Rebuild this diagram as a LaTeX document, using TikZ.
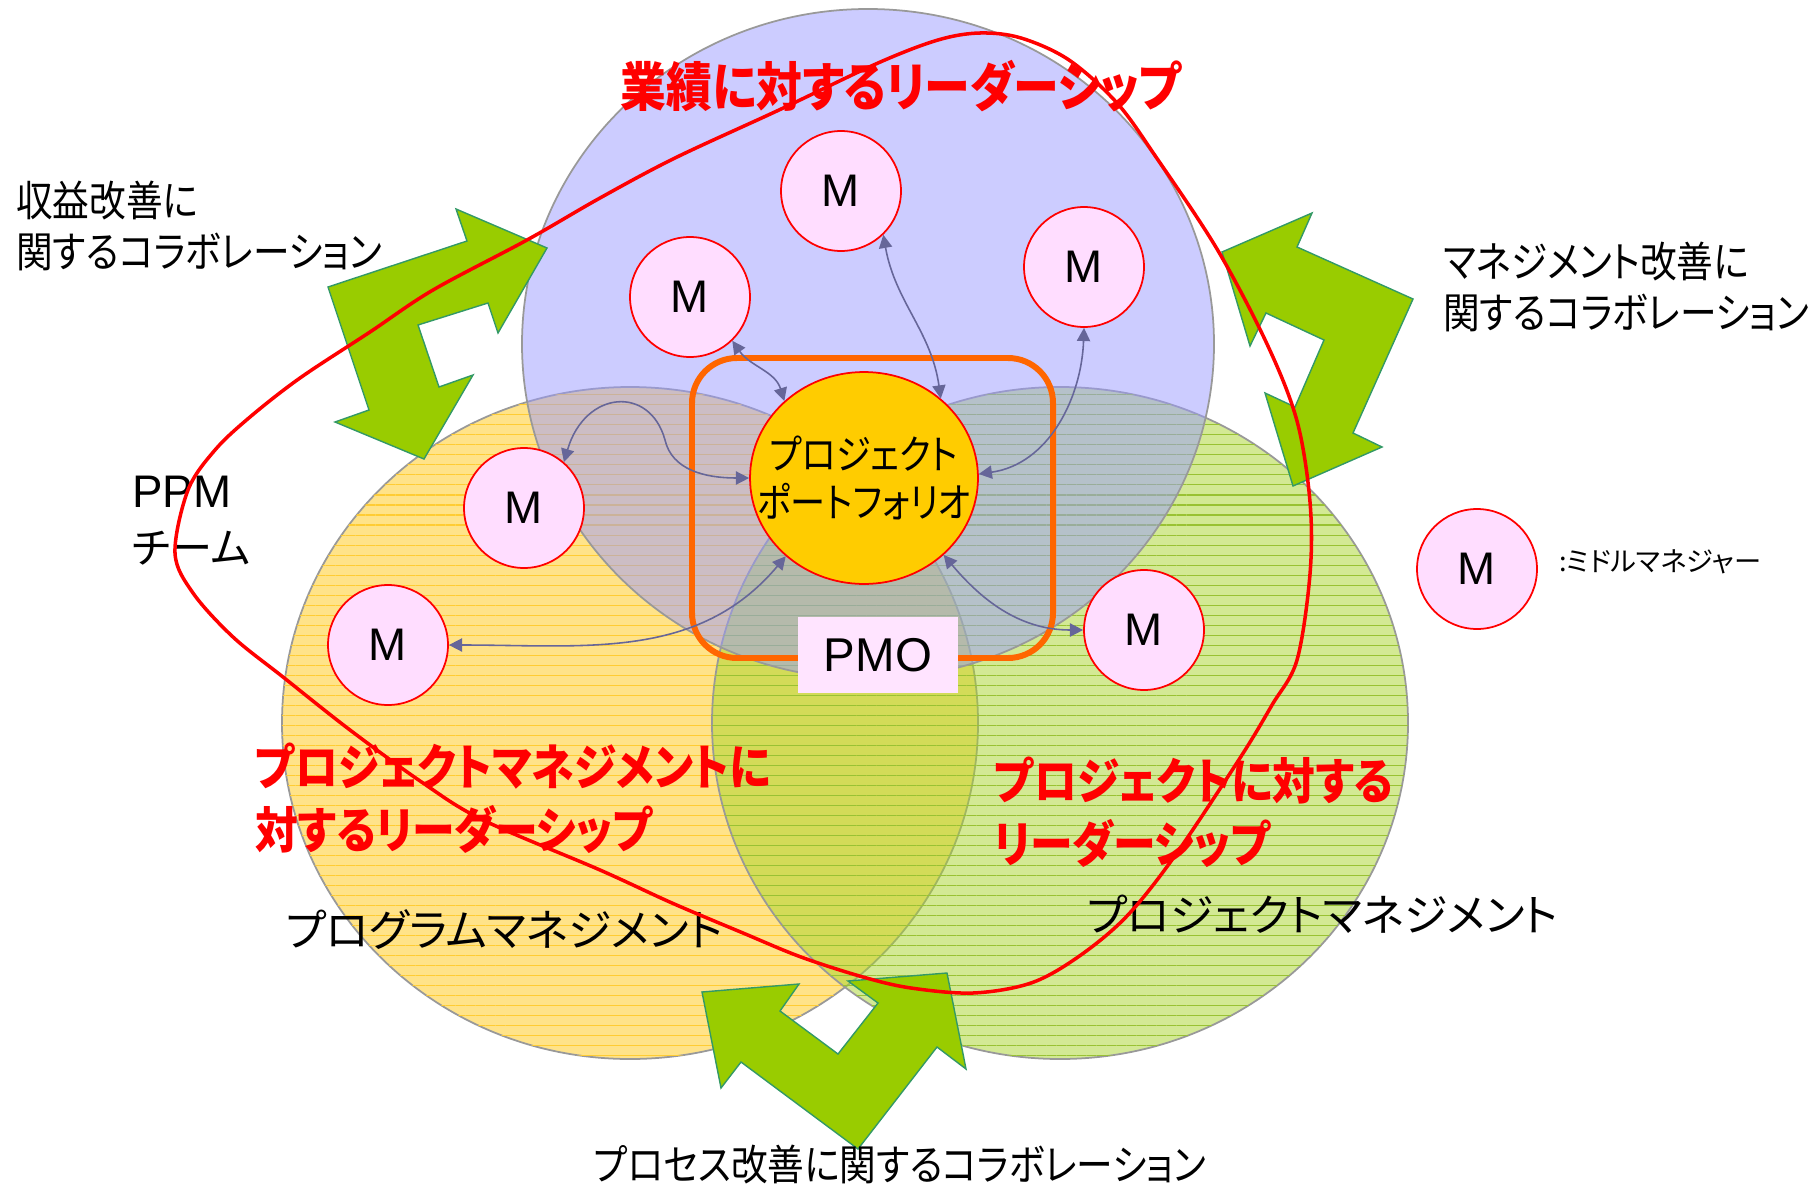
\documentclass[tikz,border=0pt]{standalone}
\usepackage{fontspec}
\setmainfont{Noto Sans CJK JP}[RawFeature=+palt,FakeStretch=0.87]
\newfontfamily\jpfull{Noto Sans CJK JP}[RawFeature=+palt]
\newfontfamily\latin{Liberation Sans}
\usepackage{tikz}
\usetikzlibrary{shapes.geometric,arrows.meta,patterns.meta}
\definecolor{zblue}{HTML}{9999FF}
\definecolor{zyellow}{HTML}{FFC713}
\definecolor{zgreen}{HTML}{A7D329}
\definecolor{ystripe}{HTML}{FFCC33}
\definecolor{gstripe}{HTML}{99C233}
\definecolor{mfill}{HTML}{FFDDFF}
\definecolor{pfyellow}{HTML}{FFCC00}
\definecolor{linkc}{HTML}{666699}
\definecolor{arrowg}{HTML}{99CC00}
\definecolor{arrowe}{HTML}{339966}
\definecolor{frameo}{HTML}{FF6600}

\begin{document}
\begin{tikzpicture}[x=0.02cm,y=-0.02cm,
  zone/.style={draw=black!40,line width=1pt,fill opacity=0.5},
  stripes/.style={pattern={Lines[angle=0,distance=5.7pt,line width=0.6pt]},fill opacity=0.55},
  mgr/.style={circle,draw=red,line width=1pt,fill=mfill,minimum size=2.4cm,inner sep=0pt,
    font=\latin\fontsize{26}{30}\selectfont},
  pfnode/.style={ellipse,draw=red,line width=1pt,fill=pfyellow,minimum width=4.56cm,
    minimum height=4.24cm,inner sep=0pt},
  pftext/.style={align=center,font=\fontsize{23}{27}\selectfont},
  pmobox/.style={rectangle,fill=mfill!80!white,minimum width=3.2cm,minimum height=1.52cm,
    font=\latin\fontsize{27}{30}\selectfont},
  link/.style={draw=linkc,line width=0.9pt,{Triangle[length=7.5pt,width=7.5pt]}-{Triangle[length=7.5pt,width=7.5pt]}},
  collab/.style={fill=arrowg,draw=arrowe,line width=0.8pt,line join=miter},
  redlabel/.style={text=red,align=left,anchor=west,font=\bfseries\fontsize{28}{36}\selectfont},
  blacklabel/.style={align=left,anchor=west,font=\jpfull\fontsize{25}{30}\selectfont},
  colltext/.style={align=left,anchor=west,font=\fontsize{24}{29}\selectfont}]
\useasboundingbox (0,0) rectangle (1811,1186);

% three areas
\draw[zone,fill=zyellow] (630,723) ellipse [x radius=348,y radius=336];
\fill[stripes,pattern color=ystripe] (630,723) ellipse [x radius=348,y radius=336];
\draw[zone,fill=zgreen] (1060,723) ellipse [x radius=348,y radius=336];
\fill[stripes,pattern color=gstripe] (1060,723) ellipse [x radius=348,y radius=336];
\draw[zone,fill=zblue] (868,344) ellipse [x radius=346,y radius=335];

% PMO frame
\draw[frameo,line width=3.4pt,rounded corners=0.9cm] (692,358) rectangle (1053,658);

% managers
\node[mgr] (mt) at (841,191) {M};
\node[mgr] (mul) at (690,297) {M};
\node[mgr] (mur) at (1084,267) {M};
\node[mgr] (ml) at (524,508) {M};
\node[mgr] (mll) at (388,645) {M};
\node[mgr] (mlr) at (1144,630) {M};
\node[pfnode] (pf) at (864,478) {};
\node[pftext] (pftxt) at (pf) {プロジェクト\\ポートフォリオ};
\node[pmobox] (pmo) at (878,655) {PMO};

% links
\draw[link] (mul.-46) to[out=-55,in=107] (pf.136);
\draw[link] (mt.-46) to[out=-80,in=98] (pf.46);
\draw[link] (mur.-90) to[out=-92,in=8] (pf.2);
\draw[link] (ml.49) .. controls (585,390) and (650,385) .. (665,440)
  .. controls (672,470) and (705,478) .. (pf.180);
\draw[link] (mll.0) to[out=0,in=-130] (pf.-135);
\draw[link] (pf.-44) to[out=-50,in=180] (mlr.180);

% collaboration arrows
\filldraw[collab] (328,287) -- (467,241) -- (456,209) -- (547,248) -- (498,333) -- (488,303)
  -- (418,325) -- (439,387) -- (473,375) -- (424,459) -- (335,422) -- (369,410) -- cycle;
\filldraw[collab] (1222,252) -- (1312,213) -- (1297,247) -- (1413,299) -- (1353,433) -- (1382,447)
  -- (1293,486) -- (1265,393) -- (1295,407) -- (1324,340) -- (1266,313) -- (1250,346) -- cycle;
\filldraw[collab] (702,992) -- (799,984) -- (780,1011) -- (838,1054) -- (878,1003) -- (848,981)
  -- (947,973) -- (966,1069) -- (937,1047) -- (858,1149) -- (741,1062) -- (721,1088) -- cycle;

% labels
\node[text=red,font=\bfseries\fontsize{30}{34}\selectfont] (ttl) at (901,86) {業績に対するリーダーシップ};
\node[colltext] (lcollab) at (10,226) {収益改善に\\関するコラボレーション};
\node[colltext] (rcollab) at (1437,287) {マネジメント改善に\\関するコラボレーション};
\node[font=\fontsize{24}{29}\selectfont] (bcollab) at (900,1165) {プロセス改善に関するコラボレーション};
\node[align=left,anchor=west,font=\jpfull\fontsize{24}{32}\selectfont] (ppm) at (126,521) {{\latin\fontsize{26}{32}\selectfont PPM}\\チーム};
\node[redlabel] (rpm) at (249,798) {プロジェクトマネジメントに\\対するリーダーシップ};
\node[redlabel] (rpj) at (988,812) {プロジェクトに対する\\リーダーシップ};
\node[blacklabel] (lpgm) at (280,930) {プログラムマネジメント};
\node[blacklabel] (lpjm) at (1081,914) {プロジェクトマネジメント};

% legend
\node[mgr] (mleg) at (1477,569) {M};
\node[anchor=west,font=\jpfull\fontsize{15.5}{18}\selectfont] (legtxt) at (1553,562) {:ミドルマネジャー};

% PPM team
\draw[red,line width=2pt] plot[smooth cycle,tension=0.55] coordinates {
  (175,553) (188,490) (215,450) (250,417) (300,378) (370,332) (433,290) (527,240)
  (600,198) (675,158) (779,110) (878,63) (938,40) (980,33) (1021,38) (1069,60)
  (1117,103) (1156,157) (1217,249) (1267,344) (1297,421) (1310,502) (1310,574)
  (1297,660) (1272,705) (1240,758) (1174,857) (1126,917) (1078,957) (1031,983)
  (973,993) (911,988) (863,977) (801,957) (743,933) (672,903) (600,870) (483,820)
  (423,783) (350,730) (283,677) (233,637) (193,593)};
\end{tikzpicture}
\end{document}
